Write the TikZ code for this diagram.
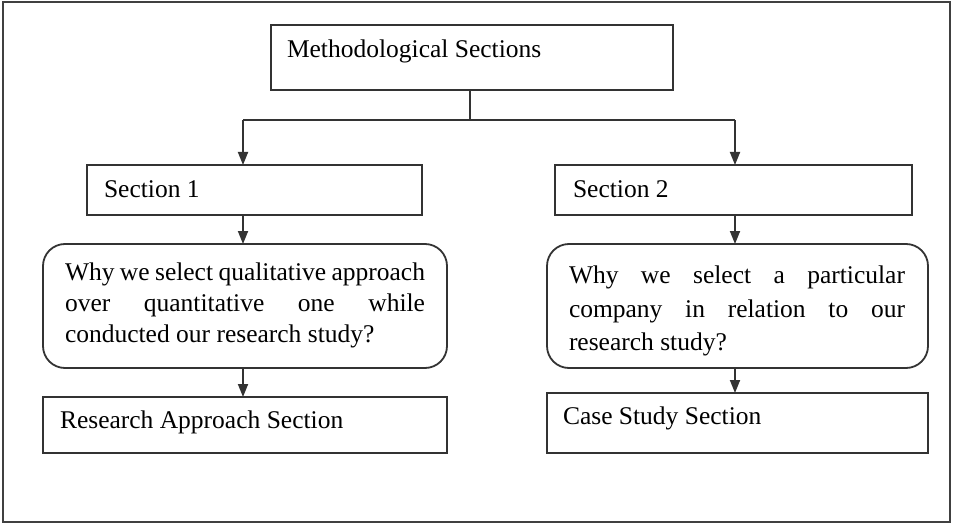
\documentclass[tikz,border=0pt]{standalone}
\usepackage{fontspec}
\setmainfont{Liberation Serif}
\usetikzlibrary{arrows.meta}
\begin{document}
\begin{tikzpicture}[x=1pt,y=-1pt,
  every node/.style={inner sep=0pt,outer sep=0pt},
  boxline/.style={draw=black!80,line width=1.8pt},
  sqbox/.style={boxline,rectangle,anchor=north west},
  rndbox/.style={boxline,rectangle,rounded corners=22pt,anchor=north west},
  lbl/.style={anchor=base west,font=\fontsize{25.5}{31}\selectfont,text=black},
  conn/.style={draw=black!80,line width=1.8pt},
  arr/.style={conn,-{Triangle[length=13pt,width=10pt]}}
]
\useasboundingbox (0,0) rectangle (953,524);
\draw[black!75,line width=2pt] (3,2) rectangle (950,522);

% boxes
\node[sqbox,minimum width=402pt,minimum height=65pt] (top) at (271,25) {};
\node[sqbox,minimum width=335pt,minimum height=50pt] (s1) at (87,165) {};
\node[sqbox,minimum width=357pt,minimum height=50pt] (s2) at (555,165) {};
\node[rndbox,minimum width=404pt,minimum height=124pt] (q1) at (43,244) {};
\node[rndbox,minimum width=381pt,minimum height=124pt] (q2) at (547,244) {};
\node[sqbox,minimum width=404pt,minimum height=56pt] (r1) at (43,397) {};
\node[sqbox,minimum width=381pt,minimum height=60pt] (r2) at (547,393) {};

% texts
\node[lbl] (ttop) at (287,58) {Methodological Sections};
\node[lbl] (ts1) at (104,197) {Section 1};
\node[lbl] (ts2) at (573,197) {Section 2};
\node[lbl] (tq1a) at (65,280) {\makebox[360pt][s]{Why we select qualitative approach}};
\node[lbl] (tq1b) at (65,311) {\makebox[360pt][s]{over quantitative one while}};
\node[lbl] (tq1c) at (65,342) {conducted our research study?};
\node[lbl] (tq2a) at (569,283) {\makebox[336pt][s]{Why we select a particular}};
\node[lbl] (tq2b) at (569,317) {\makebox[336pt][s]{company in relation to our}};
\node[lbl] (tq2c) at (569,350) {research study?};
\node[lbl] (tr1) at (60,428) {Research Approach Section};
\node[lbl] (tr2) at (563,424) {Case Study Section};

% connectors
\coordinate (mx) at (470,0);
\coordinate (lx) at (243,0);
\coordinate (rx) at (735,0);
\coordinate (by) at (0,120);
\draw[conn] (mx |- top.south) -- (mx |- by);
\draw[conn] (lx |- by) -- (rx |- by);
\draw[arr] (lx |- by) -- (lx |- s1.north);
\draw[arr] (rx |- by) -- (rx |- s2.north);
\draw[arr] (lx |- s1.south) -- (lx |- q1.north);
\draw[arr] (rx |- s2.south) -- (rx |- q2.north);
\draw[arr] (lx |- q1.south) -- (lx |- r1.north);
\draw[arr] (rx |- q2.south) -- (rx |- r2.north);
\end{tikzpicture}
\end{document}
